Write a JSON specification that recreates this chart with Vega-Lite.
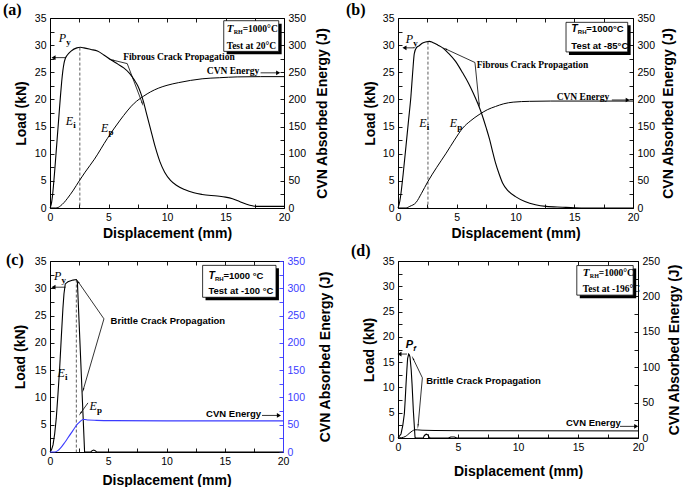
{
"$schema":"https://vega.github.io/schema/vega-lite/v6.json",
"background":"white",
"padding":{"left":2,"top":1,"right":2,"bottom":2},
"config":{
 "view":{"stroke":"black","strokeWidth":1},
 "axis":{"domain":false,"grid":false,"ticks":true,"tickSize":-4,"tickColor":"black","tickWidth":0.9,"labelPadding":8,"labelFont":"Liberation Sans","labelFontSize":10.5,"labelColor":"black","labelOverlap":false,"labelFlush":false,"titleFont":"Liberation Sans","titleFontSize":14,"titleFontWeight":"bold","titleColor":"black"},
 "title":{"font":"Liberation Serif","fontSize":16,"fontWeight":"bold","color":"black","anchor":"start","frame":"group","baseline":"alphabetic"}
},
"datasets":{
 "load":[
  {"p":"a","x":0,"y":0},{"p":"a","x":0.1,"y":0.6},{"p":"a","x":0.2,"y":2},{"p":"a","x":0.3,"y":4.2},{"p":"a","x":0.4,"y":6.8},{"p":"a","x":0.5,"y":9.6},{"p":"a","x":0.6,"y":12.4},{"p":"a","x":0.7,"y":15.2},{"p":"a","x":0.8,"y":18},{"p":"a","x":0.9,"y":20.8},{"p":"a","x":1.0,"y":23.3},{"p":"a","x":1.1,"y":25.3},{"p":"a","x":1.2,"y":26.7},{"p":"a","x":1.3,"y":27.5},{"p":"a","x":1.45,"y":28.1},{"p":"a","x":1.8,"y":28.9},{"p":"a","x":2.3,"y":29.5},{"p":"a","x":2.6,"y":29.6},{"p":"a","x":2.9,"y":29.5},{"p":"a","x":3.5,"y":29.2},{"p":"a","x":4.05,"y":28.9},{"p":"a","x":4.6,"y":28.2},{"p":"a","x":5.2,"y":27.3},{"p":"a","x":5.8,"y":26.5},{"p":"a","x":6.3,"y":25.8},{"p":"a","x":6.8,"y":24.8},{"p":"a","x":7.2,"y":23.6},{"p":"a","x":7.5,"y":22.5},{"p":"a","x":7.75,"y":21.2},{"p":"a","x":8.0,"y":19.5},{"p":"a","x":8.2,"y":17.8},{"p":"a","x":8.6,"y":14.5},{"p":"a","x":9.0,"y":11.2},{"p":"a","x":9.4,"y":8.5},{"p":"a","x":9.8,"y":6.6},{"p":"a","x":10.3,"y":5.1},{"p":"a","x":10.8,"y":4.2},{"p":"a","x":11.5,"y":3.4},{"p":"a","x":12.3,"y":2.8},{"p":"a","x":13,"y":2.5},{"p":"a","x":14.3,"y":2.2},{"p":"a","x":15,"y":2.0},{"p":"a","x":15.6,"y":1.7},{"p":"a","x":16.2,"y":1.2},{"p":"a","x":16.8,"y":0.7},{"p":"a","x":17.3,"y":0.4},{"p":"a","x":17.6,"y":0.3},{"p":"a","x":20,"y":0.3},
  {"p":"b","x":0,"y":0},{"p":"b","x":0.15,"y":1.2},{"p":"b","x":0.26,"y":2.8},{"p":"b","x":0.45,"y":6.5},{"p":"b","x":0.68,"y":11.4},{"p":"b","x":0.9,"y":16.2},{"p":"b","x":1.1,"y":20.6},{"p":"b","x":1.25,"y":25},{"p":"b","x":1.39,"y":28.5},{"p":"b","x":1.59,"y":29.6},{"p":"b","x":1.8,"y":29.9},{"p":"b","x":2.1,"y":30.4},{"p":"b","x":2.4,"y":30.6},{"p":"b","x":2.67,"y":30.7},{"p":"b","x":2.95,"y":30.5},{"p":"b","x":3.4,"y":30},{"p":"b","x":3.8,"y":29.5},{"p":"b","x":4.3,"y":28.5},{"p":"b","x":4.9,"y":27},{"p":"b","x":5.2,"y":26},{"p":"b","x":5.5,"y":24.9},{"p":"b","x":6.0,"y":23},{"p":"b","x":6.4,"y":21.2},{"p":"b","x":6.8,"y":19.2},{"p":"b","x":7.1,"y":17.5},{"p":"b","x":7.5,"y":14.8},{"p":"b","x":7.8,"y":12.6},{"p":"b","x":8.05,"y":10.4},{"p":"b","x":8.3,"y":8.3},{"p":"b","x":8.6,"y":6.3},{"p":"b","x":8.9,"y":4.6},{"p":"b","x":9.4,"y":3.1},{"p":"b","x":10,"y":2.1},{"p":"b","x":10.8,"y":1.2},{"p":"b","x":11.7,"y":0.6},{"p":"b","x":12.6,"y":0.3},{"p":"b","x":14,"y":0.15},{"p":"b","x":15,"y":0.05},{"p":"b","x":16,"y":0},{"p":"b","x":20,"y":0},
  {"p":"c","x":0,"y":0},{"p":"c","x":0.13,"y":0.4},{"p":"c","x":0.26,"y":1.3},{"p":"c","x":0.4,"y":3.3},{"p":"c","x":0.54,"y":6.2},{"p":"c","x":0.68,"y":10.5},{"p":"c","x":0.83,"y":15.4},{"p":"c","x":0.97,"y":21},{"p":"c","x":1.11,"y":26.4},{"p":"c","x":1.2,"y":29},{"p":"c","x":1.31,"y":30.8},{"p":"c","x":1.54,"y":31.2},{"p":"c","x":1.97,"y":31.5},{"p":"c","x":2.26,"y":31.6},{"p":"c","x":2.35,"y":31.2},{"p":"c","x":2.97,"y":0},{"p":"c","x":3.5,"y":0},{"p":"c","x":3.62,"y":0.25},{"p":"c","x":3.75,"y":0.35},{"p":"c","x":3.88,"y":0.25},{"p":"c","x":4.0,"y":0},{"p":"c","x":20,"y":0},
  {"p":"d","x":0,"y":0},{"p":"d","x":0.25,"y":0.8},{"p":"d","x":0.4,"y":2.5},{"p":"d","x":0.53,"y":4.8},{"p":"d","x":0.6,"y":7.5},{"p":"d","x":0.67,"y":10.7},{"p":"d","x":0.74,"y":13.5},{"p":"d","x":0.8,"y":15.7},{"p":"d","x":0.89,"y":16.6},{"p":"d","x":0.95,"y":16.4},{"p":"d","x":1.0,"y":16},{"p":"d","x":1.1,"y":13.5},{"p":"d","x":1.17,"y":10.7},{"p":"d","x":1.28,"y":5.4},{"p":"d","x":1.42,"y":0.1},{"p":"d","x":1.5,"y":0},{"p":"d","x":2.1,"y":0},{"p":"d","x":2.2,"y":0.5},{"p":"d","x":2.35,"y":0.75},{"p":"d","x":2.5,"y":0.6},{"p":"d","x":2.6,"y":0.1},{"p":"d","x":2.7,"y":0},{"p":"d","x":4.2,"y":0},{"p":"d","x":4.4,"y":0.2},{"p":"d","x":4.7,"y":0.2},{"p":"d","x":4.9,"y":0},{"p":"d","x":20,"y":0}
 ],
 "energy":[
  {"p":"a","x":0,"e":0},{"p":"a","x":0.5,"e":0},{"p":"a","x":0.7,"e":1},{"p":"a","x":0.9,"e":4},{"p":"a","x":1.2,"e":10},{"p":"a","x":1.5,"e":18},{"p":"a","x":2.0,"e":33},{"p":"a","x":2.5,"e":50},{"p":"a","x":3.0,"e":66},{"p":"a","x":3.8,"e":90},{"p":"a","x":4.9,"e":128},{"p":"a","x":6.0,"e":162},{"p":"a","x":7.2,"e":193},{"p":"a","x":8.0,"e":206},{"p":"a","x":8.6,"e":214},{"p":"a","x":9.3,"e":221},{"p":"a","x":10,"e":226},{"p":"a","x":11,"e":231},{"p":"a","x":12,"e":235},{"p":"a","x":13,"e":238},{"p":"a","x":14.5,"e":240},{"p":"a","x":16,"e":241.5},{"p":"a","x":18,"e":242},{"p":"a","x":20,"e":242},
  {"p":"b","x":0,"e":0},{"p":"b","x":0.68,"e":0},{"p":"b","x":1.0,"e":3},{"p":"b","x":1.53,"e":10},{"p":"b","x":2.0,"e":27},{"p":"b","x":2.55,"e":49},{"p":"b","x":3.3,"e":75},{"p":"b","x":4.1,"e":101},{"p":"b","x":4.8,"e":125},{"p":"b","x":5.5,"e":147},{"p":"b","x":6.2,"e":161},{"p":"b","x":6.9,"e":172},{"p":"b","x":7.6,"e":181},{"p":"b","x":8.3,"e":187},{"p":"b","x":9.0,"e":192},{"p":"b","x":9.8,"e":195},{"p":"b","x":11.2,"e":196.5},{"p":"b","x":13,"e":197},{"p":"b","x":20,"e":197},
  {"p":"c","x":0,"e":0},{"p":"c","x":0.4,"e":0},{"p":"c","x":0.7,"e":3},{"p":"c","x":0.97,"e":9},{"p":"c","x":1.25,"e":17},{"p":"c","x":1.54,"e":26},{"p":"c","x":1.83,"e":35},{"p":"c","x":2.11,"e":44},{"p":"c","x":2.35,"e":51},{"p":"c","x":2.54,"e":55},{"p":"c","x":2.7,"e":58},{"p":"c","x":2.83,"e":59.5},{"p":"c","x":3.0,"e":59.5},{"p":"c","x":3.26,"e":58.5},{"p":"c","x":4,"e":58},{"p":"c","x":5.5,"e":57.5},{"p":"c","x":10,"e":57},{"p":"c","x":20,"e":57},
  {"p":"d","x":0,"e":0},{"p":"d","x":0.3,"e":0.5},{"p":"d","x":0.6,"e":2},{"p":"d","x":0.8,"e":4.5},{"p":"d","x":1.0,"e":7.5},{"p":"d","x":1.2,"e":10},{"p":"d","x":1.4,"e":11.6},{"p":"d","x":1.6,"e":11.5},{"p":"d","x":2,"e":11},{"p":"d","x":3,"e":10.6},{"p":"d","x":5,"e":10.3},{"p":"d","x":10,"e":10.2},{"p":"d","x":20,"e":10}
 ],
 "dash":[
  {"p":"a","x":2.55,"y":29.55,"y2":0},{"p":"b","x":2.55,"y":30.65,"y2":0},{"p":"c","x":2.26,"y":31.6,"y2":0}
 ],
 "shaft":[
  {"p":"a","x":1.35,"y":27.7,"x2":0.3,"y2":27.7},{"p":"a","x":18.0,"y":24.9,"x2":19.4,"y2":24.9},{"p":"a","x":6.6,"y":26.6,"x2":5.35,"y2":27.25},{"p":"a","x":6.6,"y":26.6,"x2":7.85,"y2":19.5},
  {"p":"b","x":1.4,"y":29.5,"x2":0.6,"y2":29.5},{"p":"b","x":18.2,"y":19.9,"x2":19.5,"y2":19.9},{"p":"b","x":6.55,"y":26.8,"x2":4.1,"y2":29.25},{"p":"b","x":6.55,"y":26.8,"x2":6.9,"y2":19.3},
  {"p":"c","x":1.34,"y":30.2,"x2":0.35,"y2":30.2},{"p":"c","x":18.2,"y":6.7,"x2":19.6,"y2":6.7},{"p":"c","x":4.63,"y":24.4,"x2":2.45,"y2":31.1},{"p":"c","x":4.63,"y":24.4,"x2":2.88,"y2":11.6},{"p":"c","x":3.26,"y":9.0,"x2":2.65,"y2":7.2},
  {"p":"d","x":0.75,"y":16.6,"x2":0.15,"y2":16.6},{"p":"d","x":18.5,"y":2.3,"x2":19.8,"y2":2.3},{"p":"d","x":2.03,"y":11.9,"x2":1.28,"y2":15.6},{"p":"d","x":2.03,"y":11.9,"x2":1.68,"y2":2.6}
 ],
 "head":[
  {"p":"a","k":"L","x":0.3,"y":27.7},{"p":"a","k":"R","x":19.5,"y":24.9},{"p":"a","k":"1","x":5.3,"y":27.27},{"p":"a","k":"2","x":7.88,"y":19.3},
  {"p":"b","k":"L","x":0.55,"y":29.5},{"p":"b","k":"R","x":19.55,"y":19.9},{"p":"b","k":"1","x":4.05,"y":29.3},{"p":"b","k":"2","x":6.91,"y":19.1},
  {"p":"c","k":"L","x":0.3,"y":30.2},{"p":"c","k":"R","x":19.65,"y":6.7},{"p":"c","k":"1","x":2.42,"y":31.2},{"p":"c","k":"2","x":2.86,"y":11.4},{"p":"c","k":"3","x":2.63,"y":7.1},
  {"p":"d","k":"L","x":0.12,"y":16.6},{"p":"d","k":"R","x":19.85,"y":2.3},{"p":"d","k":"1","x":1.26,"y":15.7},{"p":"d","k":"2","x":1.67,"y":2.4}
 ],
 "shadow":[
  {"p":"a","x":15.1,"x2":19.8,"y":28.3,"y2":33.95},{"p":"b","x":14.55,"x2":19.8,"y":28.2,"y2":33.65},{"p":"c","x":13.35,"x2":19.65,"y":27.8,"y2":33.65},{"p":"d","x":15.15,"x2":19.85,"y":27.65,"y2":33.5}
 ],
 "box":[
  {"p":"a","x":14.85,"x2":19.55,"y":28.85,"y2":34.5},{"p":"b","x":14.3,"x2":19.55,"y":28.75,"y2":34.2},{"p":"c","x":13.1,"x2":19.4,"y":28.35,"y2":34.2},{"p":"d","x":14.9,"x2":19.6,"y":28.25,"y2":34.1}
 ],
 "boxt":[
  {"p":"a","x":15.1,"y":33.0,"m":"T","s":"RH","r":"=1000°C"},{"p":"b","x":14.75,"y":33.0,"m":"T","s":"RH","r":"=1000°C"},{"p":"c","x":13.6,"y":32.2,"m":"T","s":"RH","r":"=1000 °C"},{"p":"d","x":15.4,"y":32.6,"m":"T","s":"RH","r":"=1000°C"}
 ],
 "boxt2":[
  {"p":"a","x":15.1,"y":29.9,"t":"Test at 20°C"},{"p":"b","x":14.75,"y":29.9,"t":"Test at -85°C"},{"p":"c","x":13.6,"y":29.5,"t":"Test at -100 °C"},{"p":"d","x":15.4,"y":29.5,"t":"Test at -196°C"}
 ],
 "note":[
  {"p":"a","x":6.25,"y":27.8,"t":"Fibrous Crack Propagation"},{"p":"a","x":13.4,"y":25.3,"t":"CVN Energy"},
  {"p":"b","x":6.7,"y":26.4,"t":"Fibrous Crack Propagation"},{"p":"b","x":13.5,"y":20.5,"t":"CVN Energy"},
  {"p":"c","x":5.2,"y":24.0,"t":"Brittle Crack Propagation"},{"p":"c","x":13.4,"y":7.0,"t":"CVN Energy"},
  {"p":"d","x":2.35,"y":11.2,"t":"Brittle Crack Propagation"},{"p":"d","x":14.0,"y":3.0,"t":"CVN Energy"}
 ],
 "sym":[
  {"p":"a","x":0.75,"y":31.4,"m":"P","s":"y"},{"p":"a","x":1.35,"y":16.0,"m":"E","s":"i"},{"p":"a","x":4.35,"y":14.7,"m":"E","s":"p"},
  {"p":"b","x":0.65,"y":31.1,"m":"P","s":"y"},{"p":"b","x":1.8,"y":15.6,"m":"E","s":"i"},{"p":"b","x":4.4,"y":15.6,"m":"E","s":"p"},
  {"p":"c","x":0.34,"y":32.2,"m":"P","s":"y"},{"p":"c","x":0.65,"y":14.4,"m":"E","s":"i"},{"p":"c","x":3.4,"y":8.4,"m":"E","s":"p"},
  {"p":"d","x":0.65,"y":18.3,"m":"P","s":"f"}
 ]
},
"columns":2,
"spacing":{"row":53,"column":114},
"bounds":"flush",
"center":{"row":true},
"concat":[
  {"width":234,"height":190,
   "title":{"text":"(a)","dx":-47,"offset":-5},
   "resolve":{"scale":{"x":"independent","y":"independent"}},
   "layer":[
    {"encoding":{
      "x":{"field":"x","type":"quantitative","scale":{"domain":[0,20],"nice":false},"axis":{"orient":"bottom","values":[0,2.5,5,7.5,10,12.5,15,17.5,20],"labelExpr":"datum.value % 5 == 0 ? datum.label : ''","title":"Displacement (mm)","titlePadding":4}},
      "y":{"field":"y","type":"quantitative","scale":{"domain":[0,35],"nice":false},"axis":{"orient":"left","values":[0,2.5,5,7.5,10,12.5,15,17.5,20,22.5,25,27.5,30,32.5,35],"labelExpr":"datum.value % 5 == 0 ? datum.label : ''","title":"Load (kN)","titlePadding":6}}},
     "layer":[
      {"data":{"name":"load"},"transform":[{"filter":"datum.p == 'a'"}],"mark":{"type":"line","interpolate":"monotone","color":"black","strokeWidth":1.1}},
      {"data":{"name":"dash"},"transform":[{"filter":"datum.p == 'a'"}],"mark":{"type":"rule","color":"#333333","strokeWidth":0.8,"strokeDash":[3,2]},"encoding":{"y2":{"field":"y2"}}},
      {"data":{"name":"shaft"},"transform":[{"filter":"datum.p == 'a'"}],"mark":{"type":"rule","color":"black","strokeWidth":0.8},"encoding":{"x2":{"field":"x2"},"y2":{"field":"y2"}}},
      {"data":{"name":"head"},"transform":[{"filter":"datum.p == 'a' && datum.k == 'L'"}],"mark":{"type":"point","shape":"triangle-left","size":22,"filled":true,"color":"black","opacity":1}},
      {"data":{"name":"head"},"transform":[{"filter":"datum.p == 'a' && datum.k == 'R'"}],"mark":{"type":"point","shape":"triangle-right","size":22,"filled":true,"color":"black","opacity":1}},
      {"data":{"name":"head"},"transform":[{"filter":"datum.p == 'a' && datum.k == '1'"}],"mark":{"type":"point","shape":"wedge","angle":283,"size":30,"filled":true,"color":"black","opacity":1}},
      {"data":{"name":"head"},"transform":[{"filter":"datum.p == 'a' && datum.k == '2'"}],"mark":{"type":"point","shape":"wedge","angle":160,"size":30,"filled":true,"color":"black","opacity":1}},
      {"data":{"name":"shadow"},"transform":[{"filter":"datum.p == 'a'"}],"mark":{"type":"rect","color":"black"},"encoding":{"x2":{"field":"x2"},"y2":{"field":"y2"}}},
      {"data":{"name":"box"},"transform":[{"filter":"datum.p == 'a'"}],"mark":{"type":"rect","fill":"white","stroke":"black","strokeWidth":0.8},"encoding":{"x2":{"field":"x2"},"y2":{"field":"y2"}}},
      {"data":{"name":"boxt"},"transform":[{"filter":"datum.p == 'a'"}],"mark":{"type":"text","font":"Liberation Serif","fontStyle":"italic","fontWeight":"bold","fontSize":11,"align":"left","baseline":"middle","color":"black"},"encoding":{"text":{"field":"m"}}},
      {"data":{"name":"boxt"},"transform":[{"filter":"datum.p == 'a'"}],"mark":{"type":"text","font":"Liberation Serif","fontWeight":"bold","fontSize":6,"align":"left","baseline":"middle","dx":7,"dy":3,"color":"black"},"encoding":{"text":{"field":"s"}}},
      {"data":{"name":"boxt"},"transform":[{"filter":"datum.p == 'a'"}],"mark":{"type":"text","font":"Liberation Serif","fontWeight":"bold","fontSize":9.5,"align":"left","baseline":"middle","dx":16,"color":"black"},"encoding":{"text":{"field":"r"}}},
      {"data":{"name":"boxt2"},"transform":[{"filter":"datum.p == 'a'"}],"mark":{"type":"text","font":"Liberation Serif","fontWeight":"bold","fontSize":9.5,"align":"left","baseline":"middle","color":"black"},"encoding":{"text":{"field":"t"}}},
      {"data":{"name":"note"},"transform":[{"filter":"datum.p == 'a'"}],"mark":{"type":"text","font":"Liberation Serif","fontWeight":"bold","fontSize":9.5,"align":"left","baseline":"middle","color":"black"},"encoding":{"text":{"field":"t"}}},
      {"data":{"name":"sym"},"transform":[{"filter":"datum.p == 'a'"}],"mark":{"type":"text","font":"Liberation Serif","fontStyle":"italic","fontSize":12,"align":"left","baseline":"middle","color":"black"},"encoding":{"text":{"field":"m"}}},
      {"data":{"name":"sym"},"transform":[{"filter":"datum.p == 'a'"}],"mark":{"type":"text","font":"Liberation Serif","fontWeight":"bold","fontSize":9,"align":"left","baseline":"middle","dx":7.5,"dy":4,"color":"black"},"encoding":{"text":{"field":"s"}}}
     ]},
    {"data":{"name":"energy"},"transform":[{"filter":"datum.p == 'a'"}],"mark":{"type":"line","interpolate":"monotone","color":"black","strokeWidth":1},
     "encoding":{
      "x":{"field":"x","type":"quantitative","scale":{"domain":[0,20],"nice":false},"axis":{"orient":"top","values":[0,2.5,5,7.5,10,12.5,15,17.5,20],"labels":false,"title":null}},
      "y":{"field":"e","type":"quantitative","scale":{"domain":[0,350],"nice":false},"axis":{"orient":"right","values":[0,25,50,75,100,125,150,175,200,225,250,275,300,325,350],"labelExpr":"datum.value % 50 == 0 ? datum.label : ''","title":"CVN Absorbed Energy (J)","titleAngle":270,"titleBaseline":"top","titlePadding":10}}}}
   ]},
  {"width":235,"height":190,
   "title":{"text":"(b)","dx":-52,"offset":-5},
   "resolve":{"scale":{"x":"independent","y":"independent"}},
   "layer":[
    {"encoding":{
      "x":{"field":"x","type":"quantitative","scale":{"domain":[0,20],"nice":false},"axis":{"orient":"bottom","values":[0,2.5,5,7.5,10,12.5,15,17.5,20],"labelExpr":"datum.value % 5 == 0 ? datum.label : ''","title":"Displacement (mm)","titlePadding":4}},
      "y":{"field":"y","type":"quantitative","scale":{"domain":[0,35],"nice":false},"axis":{"orient":"left","values":[0,2.5,5,7.5,10,12.5,15,17.5,20,22.5,25,27.5,30,32.5,35],"labelExpr":"datum.value % 5 == 0 ? datum.label : ''","title":"Load (kN)","titlePadding":5}}},
     "layer":[
      {"data":{"name":"load"},"transform":[{"filter":"datum.p == 'b'"}],"mark":{"type":"line","interpolate":"monotone","color":"black","strokeWidth":1.1}},
      {"data":{"name":"dash"},"transform":[{"filter":"datum.p == 'b'"}],"mark":{"type":"rule","color":"#333333","strokeWidth":0.8,"strokeDash":[3,2]},"encoding":{"y2":{"field":"y2"}}},
      {"data":{"name":"shaft"},"transform":[{"filter":"datum.p == 'b'"}],"mark":{"type":"rule","color":"black","strokeWidth":0.8},"encoding":{"x2":{"field":"x2"},"y2":{"field":"y2"}}},
      {"data":{"name":"head"},"transform":[{"filter":"datum.p == 'b' && datum.k == 'L'"}],"mark":{"type":"point","shape":"triangle-left","size":22,"filled":true,"color":"black","opacity":1}},
      {"data":{"name":"head"},"transform":[{"filter":"datum.p == 'b' && datum.k == 'R'"}],"mark":{"type":"point","shape":"triangle-right","size":22,"filled":true,"color":"black","opacity":1}},
      {"data":{"name":"head"},"transform":[{"filter":"datum.p == 'b' && datum.k == '1'"}],"mark":{"type":"point","shape":"wedge","angle":295,"size":30,"filled":true,"color":"black","opacity":1}},
      {"data":{"name":"head"},"transform":[{"filter":"datum.p == 'b' && datum.k == '2'"}],"mark":{"type":"point","shape":"wedge","angle":174,"size":30,"filled":true,"color":"black","opacity":1}},
      {"data":{"name":"shadow"},"transform":[{"filter":"datum.p == 'b'"}],"mark":{"type":"rect","color":"black"},"encoding":{"x2":{"field":"x2"},"y2":{"field":"y2"}}},
      {"data":{"name":"box"},"transform":[{"filter":"datum.p == 'b'"}],"mark":{"type":"rect","fill":"white","stroke":"black","strokeWidth":0.8},"encoding":{"x2":{"field":"x2"},"y2":{"field":"y2"}}},
      {"data":{"name":"boxt"},"transform":[{"filter":"datum.p == 'b'"}],"mark":{"type":"text","font":"Liberation Sans","fontStyle":"italic","fontWeight":"bold","fontSize":10.5,"align":"left","baseline":"middle","color":"black"},"encoding":{"text":{"field":"m"}}},
      {"data":{"name":"boxt"},"transform":[{"filter":"datum.p == 'b'"}],"mark":{"type":"text","font":"Liberation Sans","fontWeight":"bold","fontSize":6,"align":"left","baseline":"middle","dx":6.5,"dy":3,"color":"black"},"encoding":{"text":{"field":"s"}}},
      {"data":{"name":"boxt"},"transform":[{"filter":"datum.p == 'b'"}],"mark":{"type":"text","font":"Liberation Sans","fontWeight":"bold","fontSize":9.5,"align":"left","baseline":"middle","dx":15,"color":"black"},"encoding":{"text":{"field":"r"}}},
      {"data":{"name":"boxt2"},"transform":[{"filter":"datum.p == 'b'"}],"mark":{"type":"text","font":"Liberation Sans","fontWeight":"bold","fontSize":9.5,"align":"left","baseline":"middle","color":"black"},"encoding":{"text":{"field":"t"}}},
      {"data":{"name":"note"},"transform":[{"filter":"datum.p == 'b'"}],"mark":{"type":"text","font":"Liberation Serif","fontWeight":"bold","fontSize":9.5,"align":"left","baseline":"middle","color":"black"},"encoding":{"text":{"field":"t"}}},
      {"data":{"name":"sym"},"transform":[{"filter":"datum.p == 'b'"}],"mark":{"type":"text","font":"Liberation Serif","fontStyle":"italic","fontSize":12,"align":"left","baseline":"middle","color":"black"},"encoding":{"text":{"field":"m"}}},
      {"data":{"name":"sym"},"transform":[{"filter":"datum.p == 'b'"}],"mark":{"type":"text","font":"Liberation Serif","fontWeight":"bold","fontSize":9,"align":"left","baseline":"middle","dx":7.5,"dy":4,"color":"black"},"encoding":{"text":{"field":"s"}}}
     ]},
    {"data":{"name":"energy"},"transform":[{"filter":"datum.p == 'b'"}],"mark":{"type":"line","interpolate":"monotone","color":"black","strokeWidth":1},
     "encoding":{
      "x":{"field":"x","type":"quantitative","scale":{"domain":[0,20],"nice":false},"axis":{"orient":"top","values":[0,2.5,5,7.5,10,12.5,15,17.5,20],"labels":false,"title":null}},
      "y":{"field":"e","type":"quantitative","scale":{"domain":[0,350],"nice":false},"axis":{"orient":"right","values":[0,25,50,75,100,125,150,175,200,225,250,275,300,325,350],"labelExpr":"datum.value % 50 == 0 ? datum.label : ''","title":"CVN Absorbed Energy (J)","titleAngle":270,"titleBaseline":"top","titlePadding":7}}}}
   ]},
  {"width":233,"height":191,
   "title":{"text":"(c)","dx":-44,"offset":-12},
   "resolve":{"scale":{"x":"independent","y":"independent"}},
   "layer":[
    {"encoding":{
      "x":{"field":"x","type":"quantitative","scale":{"domain":[0,20],"nice":false},"axis":{"orient":"bottom","values":[0,2.5,5,7.5,10,12.5,15,17.5,20],"labelExpr":"datum.value % 5 == 0 ? datum.label : ''","title":"Displacement (mm)","titlePadding":7}},
      "y":{"field":"y","type":"quantitative","scale":{"domain":[0,35],"nice":false},"axis":{"orient":"left","values":[0,2.5,5,7.5,10,12.5,15,17.5,20,22.5,25,27.5,30,32.5,35],"labelExpr":"datum.value % 5 == 0 ? datum.label : ''","title":"Load (kN)","titlePadding":7}}},
     "layer":[
      {"data":{"name":"load"},"transform":[{"filter":"datum.p == 'c'"}],"mark":{"type":"line","color":"black","strokeWidth":1.1}},
      {"data":{"name":"dash"},"transform":[{"filter":"datum.p == 'c'"}],"mark":{"type":"rule","color":"#333333","strokeWidth":0.8,"strokeDash":[3,2]},"encoding":{"y2":{"field":"y2"}}},
      {"data":{"name":"shaft"},"transform":[{"filter":"datum.p == 'c'"}],"mark":{"type":"rule","color":"black","strokeWidth":0.8},"encoding":{"x2":{"field":"x2"},"y2":{"field":"y2"}}},
      {"data":{"name":"head"},"transform":[{"filter":"datum.p == 'c' && datum.k == 'L'"}],"mark":{"type":"point","shape":"triangle-left","size":22,"filled":true,"color":"black","opacity":1}},
      {"data":{"name":"head"},"transform":[{"filter":"datum.p == 'c' && datum.k == 'R'"}],"mark":{"type":"point","shape":"triangle-right","size":22,"filled":true,"color":"black","opacity":1}},
      {"data":{"name":"head"},"transform":[{"filter":"datum.p == 'c' && datum.k == '1'"}],"mark":{"type":"point","shape":"wedge","angle":325,"size":30,"filled":true,"color":"black","opacity":1}},
      {"data":{"name":"head"},"transform":[{"filter":"datum.p == 'c' && datum.k == '2'"}],"mark":{"type":"point","shape":"wedge","angle":196,"size":30,"filled":true,"color":"black","opacity":1}},
      {"data":{"name":"head"},"transform":[{"filter":"datum.p == 'c' && datum.k == '3'"}],"mark":{"type":"point","shape":"wedge","angle":215,"size":30,"filled":true,"color":"black","opacity":1}},
      {"data":{"name":"shadow"},"transform":[{"filter":"datum.p == 'c'"}],"mark":{"type":"rect","color":"black"},"encoding":{"x2":{"field":"x2"},"y2":{"field":"y2"}}},
      {"data":{"name":"box"},"transform":[{"filter":"datum.p == 'c'"}],"mark":{"type":"rect","fill":"white","stroke":"black","strokeWidth":0.8},"encoding":{"x2":{"field":"x2"},"y2":{"field":"y2"}}},
      {"data":{"name":"boxt"},"transform":[{"filter":"datum.p == 'c'"}],"mark":{"type":"text","font":"Liberation Sans","fontStyle":"italic","fontWeight":"bold","fontSize":10.5,"align":"left","baseline":"middle","color":"black"},"encoding":{"text":{"field":"m"}}},
      {"data":{"name":"boxt"},"transform":[{"filter":"datum.p == 'c'"}],"mark":{"type":"text","font":"Liberation Sans","fontWeight":"bold","fontSize":6,"align":"left","baseline":"middle","dx":6.5,"dy":3,"color":"black"},"encoding":{"text":{"field":"s"}}},
      {"data":{"name":"boxt"},"transform":[{"filter":"datum.p == 'c'"}],"mark":{"type":"text","font":"Liberation Sans","fontWeight":"bold","fontSize":9.5,"align":"left","baseline":"middle","dx":15,"color":"black"},"encoding":{"text":{"field":"r"}}},
      {"data":{"name":"boxt2"},"transform":[{"filter":"datum.p == 'c'"}],"mark":{"type":"text","font":"Liberation Sans","fontWeight":"bold","fontSize":9.5,"align":"left","baseline":"middle","color":"black"},"encoding":{"text":{"field":"t"}}},
      {"data":{"name":"note"},"transform":[{"filter":"datum.p == 'c'"}],"mark":{"type":"text","font":"Liberation Sans","fontWeight":"bold","fontSize":9.5,"align":"left","baseline":"middle","color":"black"},"encoding":{"text":{"field":"t"}}},
      {"data":{"name":"sym"},"transform":[{"filter":"datum.p == 'c'"}],"mark":{"type":"text","font":"Liberation Serif","fontStyle":"italic","fontSize":12,"align":"left","baseline":"middle","color":"black"},"encoding":{"text":{"field":"m"}}},
      {"data":{"name":"sym"},"transform":[{"filter":"datum.p == 'c'"}],"mark":{"type":"text","font":"Liberation Serif","fontWeight":"bold","fontSize":9,"align":"left","baseline":"middle","dx":7.5,"dy":4,"color":"black"},"encoding":{"text":{"field":"s"}}}
     ]},
    {"data":{"name":"energy"},"transform":[{"filter":"datum.p == 'c'"}],"mark":{"type":"line","interpolate":"monotone","color":"#3b3bff","strokeWidth":1.1},
     "encoding":{
      "x":{"field":"x","type":"quantitative","scale":{"domain":[0,20],"nice":false},"axis":{"orient":"top","values":[0,2.5,5,7.5,10,12.5,15,17.5,20],"labels":false,"title":null}},
      "y":{"field":"e","type":"quantitative","scale":{"domain":[0,350],"nice":false},"axis":{"orient":"right","values":[0,25,50,75,100,125,150,175,200,225,250,275,300,325,350],"labelExpr":"datum.value % 50 == 0 ? datum.label : ''","labelColor":"#3b3bff","tickColor":"#3b3bff","domain":true,"domainColor":"#3b3bff","domainWidth":1,"title":"CVN Absorbed Energy (J)","titleAngle":270,"titleBaseline":"top","titlePadding":14}}}}
   ]},
  {"width":240,"height":177,
   "title":{"text":"(d)","dx":-47,"offset":-3},
   "resolve":{"scale":{"x":"independent","y":"independent"}},
   "layer":[
    {"encoding":{
      "x":{"field":"x","type":"quantitative","scale":{"domain":[0,20],"nice":false},"axis":{"orient":"bottom","values":[0,2.5,5,7.5,10,12.5,15,17.5,20],"labelExpr":"datum.value % 5 == 0 ? datum.label : ''","title":"Displacement (mm)","titlePadding":12}},
      "y":{"field":"y","type":"quantitative","scale":{"domain":[0,35],"nice":false},"axis":{"orient":"left","values":[0,2.5,5,7.5,10,12.5,15,17.5,20,22.5,25,27.5,30,32.5,35],"labelExpr":"datum.value % 5 == 0 ? datum.label : ''","title":"Load (kN)","titlePadding":6}}},
     "layer":[
      {"data":{"name":"load"},"transform":[{"filter":"datum.p == 'd'"}],"mark":{"type":"line","color":"black","strokeWidth":1.1}},
      {"data":{"name":"shaft"},"transform":[{"filter":"datum.p == 'd'"}],"mark":{"type":"rule","color":"black","strokeWidth":0.8},"encoding":{"x2":{"field":"x2"},"y2":{"field":"y2"}}},
      {"data":{"name":"head"},"transform":[{"filter":"datum.p == 'd' && datum.k == 'L'"}],"mark":{"type":"point","shape":"triangle-left","size":22,"filled":true,"color":"black","opacity":1}},
      {"data":{"name":"head"},"transform":[{"filter":"datum.p == 'd' && datum.k == 'R'"}],"mark":{"type":"point","shape":"triangle-right","size":22,"filled":true,"color":"black","opacity":1}},
      {"data":{"name":"head"},"transform":[{"filter":"datum.p == 'd' && datum.k == '1'"}],"mark":{"type":"point","shape":"wedge","angle":334,"size":30,"filled":true,"color":"black","opacity":1}},
      {"data":{"name":"head"},"transform":[{"filter":"datum.p == 'd' && datum.k == '2'"}],"mark":{"type":"point","shape":"wedge","angle":185,"size":30,"filled":true,"color":"black","opacity":1}},
      {"data":{"name":"shadow"},"transform":[{"filter":"datum.p == 'd'"}],"mark":{"type":"rect","color":"black"},"encoding":{"x2":{"field":"x2"},"y2":{"field":"y2"}}},
      {"data":{"name":"box"},"transform":[{"filter":"datum.p == 'd'"}],"mark":{"type":"rect","fill":"white","stroke":"black","strokeWidth":0.8},"encoding":{"x2":{"field":"x2"},"y2":{"field":"y2"}}},
      {"data":{"name":"boxt"},"transform":[{"filter":"datum.p == 'd'"}],"mark":{"type":"text","font":"Liberation Serif","fontStyle":"italic","fontWeight":"bold","fontSize":11,"align":"left","baseline":"middle","color":"black"},"encoding":{"text":{"field":"m"}}},
      {"data":{"name":"boxt"},"transform":[{"filter":"datum.p == 'd'"}],"mark":{"type":"text","font":"Liberation Serif","fontWeight":"bold","fontSize":6,"align":"left","baseline":"middle","dx":7,"dy":3,"color":"black"},"encoding":{"text":{"field":"s"}}},
      {"data":{"name":"boxt"},"transform":[{"filter":"datum.p == 'd'"}],"mark":{"type":"text","font":"Liberation Serif","fontWeight":"bold","fontSize":9.5,"align":"left","baseline":"middle","dx":16,"color":"black"},"encoding":{"text":{"field":"r"}}},
      {"data":{"name":"boxt2"},"transform":[{"filter":"datum.p == 'd'"}],"mark":{"type":"text","font":"Liberation Serif","fontWeight":"bold","fontSize":9.5,"align":"left","baseline":"middle","color":"black"},"encoding":{"text":{"field":"t"}}},
      {"data":{"name":"note"},"transform":[{"filter":"datum.p == 'd'"}],"mark":{"type":"text","font":"Liberation Sans","fontWeight":"bold","fontSize":9.5,"align":"left","baseline":"middle","color":"black"},"encoding":{"text":{"field":"t"}}},
      {"data":{"name":"sym"},"transform":[{"filter":"datum.p == 'd'"}],"mark":{"type":"text","font":"Liberation Sans","fontStyle":"italic","fontWeight":"bold","fontSize":11,"align":"left","baseline":"middle","color":"black"},"encoding":{"text":{"field":"m"}}},
      {"data":{"name":"sym"},"transform":[{"filter":"datum.p == 'd'"}],"mark":{"type":"text","font":"Liberation Sans","fontStyle":"italic","fontWeight":"bold","fontSize":8,"align":"left","baseline":"middle","dx":7.5,"dy":4,"color":"black"},"encoding":{"text":{"field":"s"}}}
     ]},
    {"data":{"name":"energy"},"transform":[{"filter":"datum.p == 'd'"}],"mark":{"type":"line","interpolate":"monotone","color":"black","strokeWidth":1},
     "encoding":{
      "x":{"field":"x","type":"quantitative","scale":{"domain":[0,20],"nice":false},"axis":{"orient":"top","values":[0,2.5,5,7.5,10,12.5,15,17.5,20],"labels":false,"title":null}},
      "y":{"field":"e","type":"quantitative","scale":{"domain":[0,250],"nice":false},"axis":{"orient":"right","values":[0,25,50,75,100,125,150,175,200,225,250],"labelExpr":"datum.value % 50 == 0 ? datum.label : ''","title":"CVN Absorbed Energy (J)","titleAngle":270,"titleBaseline":"top","titlePadding":8}}}}
   ]}
]
}
